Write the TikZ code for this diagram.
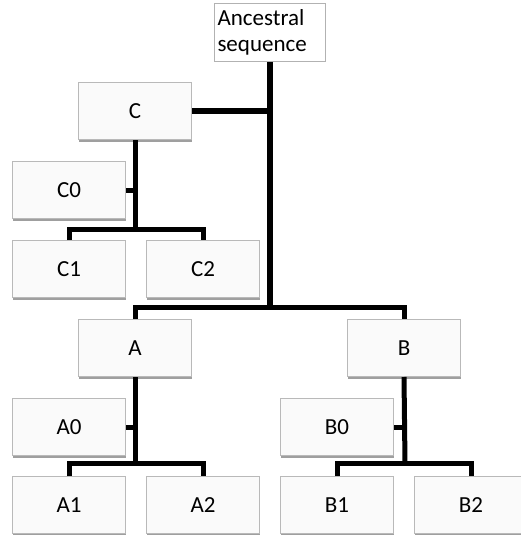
\documentclass[tikz,border=0pt]{standalone}
\usepackage{fontspec}
\setmainfont{Carlito}
\usetikzlibrary{shadows}
\begin{document}
\begin{tikzpicture}[x=1pt,y=-1pt,
  box/.style={draw=gray!55, line width=1pt, fill=gray!4, anchor=north west,
    minimum width=113pt, minimum height=57pt, inner sep=0pt,
    font=\fontsize{23}{25.7}\selectfont,
    drop shadow={shadow xshift=0pt, shadow yshift=-2pt, fill=gray!75, opacity=1}},
  anc/.style={draw=gray!60, line width=1pt, fill=white, anchor=north west,
    minimum width=111pt, minimum height=58pt, inner sep=2pt,
    font=\fontsize{23}{25.7}\selectfont, align=left, text width=105pt},
  link/.style={line width=5pt, black, line join=miter},
  mainlink/.style={line width=6pt, black, line join=miter}]
\useasboundingbox (0,0) rectangle (520,535);
\fill[white] (0,0) rectangle (520,535);
\node[anc] (anc) at (214,3) {Ancestral\\sequence};
\node[box] (C)  at (78,82)  {C};
\node[box] (C0) at (12,161) {C0};
\node[box] (C1) at (12,240) {C1};
\node[box] (C2) at (146,240) {C2};
\node[box] (A)  at (78,319)  {A};
\node[box] (B)  at (347,319) {B};
\node[box] (A0) at (12,398)  {A0};
\node[box] (B0) at (280,398) {B0};
\node[box] (A1) at (12,476)  {A1};
\node[box] (A2) at (146,476) {A2};
\node[box] (B1) at (280,476) {B1};
\node[box] (B2) at (414,476) {B2};
\coordinate (jAB) at (270,307);
\coordinate (jC) at (135,229);
\coordinate (jA) at (135,463);
\coordinate (jB) at (405,463);
\draw[mainlink] (anc.south) -- (jAB);
\draw[mainlink] (C.east) -- (C.east -| anc.south);
\draw[link] (A.north) |- (jAB) -| (B.north);
\draw[link] (C.south) -- (jC);
\draw[link] (C1.north) |- (jC) -| (C2.north);
\draw[link] (C0.east) -- (C0.east -| C.south);
\draw[link] (A.south) -- (jA);
\draw[link] (A1.north) |- (jA) -| (A2.north);
\draw[link] (A0.east) -- (A0.east -| A.south);
\draw[link] (B.south) -- (jB);
\draw[link] (B1.north) |- (jB) -| (B2.north);
\draw[link] (B0.east) -- (B0.east -| B.south);
\end{tikzpicture}
\end{document}
